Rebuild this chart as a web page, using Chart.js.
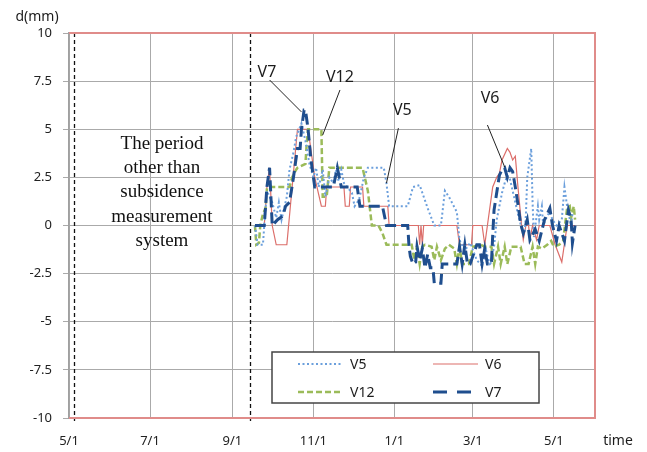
<!DOCTYPE html>
<html>
<head>
<meta charset="utf-8">
<script src="https://cdn.jsdelivr.net/npm/chart.js@4/dist/chart.umd.min.js"></script>
<style>
  html, body { margin: 0; padding: 0; background: #fff; }
</style>
</head>
<body>
<canvas id="chart" width="647" height="452"></canvas>
<script>
// x values are days counted from 5/1
const tickDays = [0, 61, 123, 184, 245, 304, 365];
const tickLabels = ['5/1', '7/1', '9/1', '11/1', '1/1', '3/1', '5/1'];

const v5Days = [140,142,146,147,149,151,153,156,158,160,164,166,169,171,175,178,181,184,186,188,191,193,196,199,201,203,205,207,213,215,218,219,222,225,237,239,241,255,259,264,270,275,280,283,286,292,294,298,302,307,311,314,317,320,322,324,326,328,330,332,335,338,341,343,344,345,348,349,350,353,354,356,357,360,362,364,367,371,373,375,378,379];
const v5Vals = [0,-1,-1,0,1.8,1.5,1.2,0.4,1.2,0.3,1.5,2.9,3.8,4.6,5.3,4.4,3.2,2.5,3,2,2.9,1.5,2.5,2.2,2.9,2.3,2.9,2.2,1.7,1,1.3,1.5,2.5,3,3,2.2,1,1,2,2.1,0.9,0,0,1.8,1.5,0.7,-0.75,-1.3,-0.9,-1.8,-2.1,-1.3,-2.1,-1.1,0.3,1,1.7,2.2,2.6,2.4,1.5,0.6,-0.2,-0.4,0.6,2.5,4,1.2,-0.6,1,0.3,1,0,0.5,0.7,0.3,0,0.3,2,1,0,0.6];

const v6Days = [140,147,149,151,153,156,164,172,177,180,185,190,193,194,207,208,211,212,221,222,240,241,263,264,265,266,267,292,294,303,304,311,313,315,319,322,324,326,330,332,334,336,338,341,342,344,346,347,349,352,354,362,366,371,375,381];
const v6Vals = [0,0,2,3,0,-1,-1,5,5,5,2.5,1,1,2,2,1,1,2,2,1,1,0,0,-1,0,-1,0,0,-1,-1,0,0,-1,0,2,2.5,2.7,3.4,4,3.8,3.4,3.6,2,-0.2,-0.75,0,0,-0.75,0,-0.75,0,0,-1,-1.9,0,0];

const v12Days = [140,141,143,144,146,148,149,150,152,166,168,171,172,178,179,180,190,191,194,196,221,225,228,233,236,239,258,260,262,264,266,268,273,275,277,280,283,286,290,292,294,296,301,304,310,313,318,320,323,325,328,330,333,340,343,346,349,351,353,356,360,363,365,369,372,375,377,378,380,381];
const v12Vals = [0,-1,-0.9,0,0.6,0.9,1.9,2.3,2,2,2.5,2.9,3,3.2,4.3,5,5,1.5,1.5,3,3,1.8,0,0,-0.4,-1,-1,-1.8,-1.1,-2,-1.1,-1,-1.1,-1.8,-1.1,-1.8,-1.2,-1,-1.2,-2,-1.1,-2,-2,-1.1,-1,-1.1,-1.1,-2,-1.1,-2,-1.1,-2,-1.1,-1.1,-2,-2,-1.1,-2,-1.1,-1.2,-1,-0.8,-1.1,-1,-0.8,0.9,1,0.4,1,0.3];

const v7Days = [140,147,149,151,153,157,161,163,166,169,172,174,175,177,178,180,182,184,185,199,202,205,217,219,236,239,255,256,257,259,261,262,264,266,268,270,272,274,275,280,281,292,294,296,298,300,302,307,309,311,313,315,318,319,320,322,324,326,328,330,332,334,336,338,340,342,345,347,351,354,358,362,364,367,369,373,376,378,379,381];
const v7Vals = [0,0,2,3,0,0.3,0.5,1,1.2,2.5,4,4,5,6,6,5,3.5,2.5,2,2,3,2,2,1,1,0,0,-1.1,-1.6,-2,-1.9,-1.1,-1.8,-1.2,-2.2,-1.5,-2.2,-2.2,-3,-3,-2,-2,-1.1,-2,-1,-2,-2,-1,-1,-2,-1.2,-2,-2,-0.5,0.8,1.7,2.6,2.9,3,2.5,3,2.8,2,1.1,0.1,-0.4,0.3,-0.75,-0.2,-0.8,0.3,0.9,0,-0.8,0,-0.8,0.8,0.3,-0.9,0];

// boundaries of the period without the measurement system (days)
const periodLines = [4, 136];
const periodText = ['The period', 'other than', 'subsidence', 'measurement', 'system'];

// callouts: label, label point, leader start, leader end (day, mm)
const calloutNames = ['V7', 'V12', 'V5', 'V6'];
const calloutLabelAt = [[149, 7.97], [204, 7.71], [251, 6.0], [317, 6.62]];
const calloutFrom = [[151, 7.56], [204, 7.04], [248, 5.06], [315, 5.22]];
const calloutTo = [[175, 5.9], [191, 4.7], [239, 2.2], [328, 3.04]];

const legendOrder = ['V5', 'V6', 'V12', 'V7'];

const pts = (days, vals) => days.map((d, i) => ({ x: d, y: vals[i] }));

const overlay = {
    id: 'overlay',
    afterDatasetsDraw(chart) {
        const { ctx, chartArea: a, scales: { x, y } } = chart;
        ctx.save();

        // dashed period lines
        ctx.strokeStyle = '#111';
        ctx.lineWidth = 1.3;
        ctx.setLineDash([4, 3]);
        periodLines.forEach(d => {
            const px = Math.round(x.getPixelForValue(d)) + 0.5;
            ctx.beginPath();
            ctx.moveTo(px, a.top);
            ctx.lineTo(px, a.bottom + 3);
            ctx.stroke();
        });
        ctx.setLineDash([]);

        // period text
        ctx.fillStyle = '#111';
        ctx.font = '19px "Liberation Serif"';
        ctx.textAlign = 'center';
        ctx.textBaseline = 'middle';
        const cx = (x.getPixelForValue(periodLines[0]) + x.getPixelForValue(periodLines[1])) / 2;
        periodText.forEach((t, i) => ctx.fillText(t, cx, 144 + i * 24.2));

        // red frame on top, right, bottom
        ctx.strokeStyle = '#e08c8a';
        ctx.lineWidth = 2;
        ctx.beginPath();
        ctx.moveTo(a.left, a.top);
        ctx.lineTo(a.right, a.top);
        ctx.lineTo(a.right, a.bottom);
        ctx.lineTo(a.left, a.bottom);
        ctx.stroke();

        // callouts
        ctx.strokeStyle = '#222';
        ctx.lineWidth = 1;
        ctx.fillStyle = '#1c1c1c';
        ctx.font = '16px "Noto Sans"';
        calloutNames.forEach((n, i) => {
            ctx.beginPath();
            ctx.moveTo(x.getPixelForValue(calloutFrom[i][0]), y.getPixelForValue(calloutFrom[i][1]));
            ctx.lineTo(x.getPixelForValue(calloutTo[i][0]), y.getPixelForValue(calloutTo[i][1]));
            ctx.stroke();
            ctx.fillText(n, x.getPixelForValue(calloutLabelAt[i][0]), y.getPixelForValue(calloutLabelAt[i][1]));
        });

        // legend box
        const bx = 272, by = 352, bw = 267, bh = 51;
        ctx.fillStyle = '#fff';
        ctx.fillRect(bx, by, bw, bh);
        ctx.strokeStyle = '#444';
        ctx.lineWidth = 1.5;
        ctx.strokeRect(bx, by, bw, bh);
        ctx.font = '14px "Noto Sans"';
        ctx.textAlign = 'left';
        legendOrder.forEach((name, i) => {
            const ds = chart.data.datasets.find(d => d.label === name);
            const lx = bx + 26 + (i % 2) * 135;
            const ly = by + 12 + Math.floor(i / 2) * 28;
            ctx.strokeStyle = ds.borderColor;
            ctx.lineWidth = ds.borderWidth;
            ctx.setLineDash(name === 'V7' ? [14, 10] : (ds.borderDash || []));
            ctx.beginPath();
            ctx.moveTo(lx, ly);
            ctx.lineTo(lx + 45, ly);
            ctx.stroke();
            ctx.setLineDash([]);
            ctx.fillStyle = '#1c1c1c';
            ctx.fillText(name, lx + 52, ly + 1);
        });

        // axis titles
        ctx.fillStyle = '#1c1c1c';
        ctx.font = '14px "Noto Sans"';
        ctx.textAlign = 'center';
        ctx.fillText('d(mm)', 37, 17);
        ctx.fillText('time', 618, 441);

        ctx.restore();
    }
};

new Chart(document.getElementById('chart'), {
    type: 'line',
    data: {
        datasets: [
            { label: 'V7', data: pts(v7Days, v7Vals), borderColor: '#1f4e8e', borderWidth: 3, borderDash: [11, 5] },
            { label: 'V5', data: pts(v5Days, v5Vals), borderColor: '#6b9fdc', borderWidth: 2, borderDash: [2, 2.5] },
            { label: 'V12', data: pts(v12Days, v12Vals), borderColor: '#9bbb59', borderWidth: 2.5, borderDash: [6, 3] },
            { label: 'V6', data: pts(v6Days, v6Vals), borderColor: '#dc6e6a', borderWidth: 1.2 }
        ]
    },
    options: {
        responsive: false,
        animation: false,
        layout: { padding: { left: 0, right: 52, top: 33, bottom: 0 } },
        plugins: { legend: { display: false }, tooltip: { enabled: false } },
        elements: { point: { radius: 0 }, line: { tension: 0, fill: false } },
        scales: {
            x: {
                type: 'linear', min: 0, max: 396,
                afterBuildTicks: s => { s.ticks = tickDays.map(v => ({ value: v })); },
                afterFit: s => { s.height = 34; },
                ticks: {
                    callback: (v, i) => tickLabels[i],
                    color: '#222', font: { family: 'Noto Sans', size: 13 },
                    padding: 15, maxRotation: 0, autoSkip: false
                },
                grid: { color: '#aaaaaa', lineWidth: 1, drawTicks: false },
                border: { display: false }
            },
            y: {
                min: -10, max: 10,
                afterFit: s => { s.width = 69; },
                ticks: { stepSize: 2.5, color: '#222', font: { family: 'Noto Sans', size: 13 }, padding: 11 },
                grid: { color: '#aaaaaa', lineWidth: 1, tickLength: 6 },
                border: { color: '#a0a0a0', width: 1.5 }
            }
        }
    },
    plugins: [overlay]
});
</script>
</body>
</html>
